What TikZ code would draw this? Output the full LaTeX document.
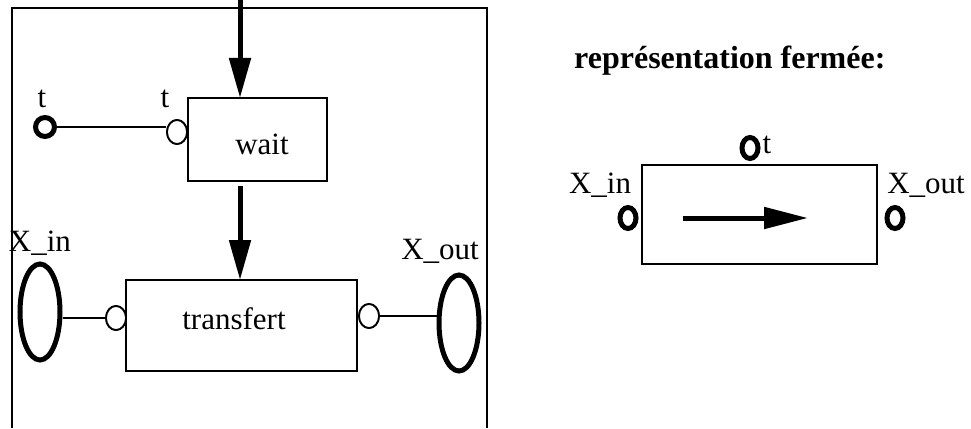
\documentclass[tikz,border=0pt]{standalone}
\usepackage{fontspec}
\setmainfont{Liberation Serif}
\usetikzlibrary{arrows.meta,shapes.geometric,calc}
\begin{document}
\begin{tikzpicture}[x=1pt,y=-1pt,
  lbl/.style={font=\fontsize{31}{36}\selectfont, inner sep=0pt, anchor=base},
  thin/.style={line width=2pt},
  boxs/.style={draw, line width=2pt, rectangle, inner sep=0pt},
  port/.style={draw, line width=1.8pt, ellipse, inner sep=0pt, minimum width=20pt, minimum height=24pt, fill=white},
  thickport/.style={draw, line width=5pt, circle, inner sep=0pt, minimum size=19pt},
  cport/.style={draw, line width=5pt, ellipse, inner sep=0pt, minimum width=16pt, minimum height=21pt},
  bigport/.style={draw, line width=5pt, ellipse, inner sep=0pt, minimum width=40pt, minimum height=96pt},
  flow/.style={line width=5pt, -{Triangle[length=40pt,width=21pt]}, shorten >=-1pt}
]
\useasboundingbox (0,0) rectangle (971,428);
% outer frame (open at bottom)
\draw[thin] (12,428) -- (12,8) -- (487,8) -- (487,428);
% boxes
\node[boxs, minimum width=139pt, minimum height=83pt] (wait) at (257.5,139.5) {};
\node[lbl] (waitt) at (262,154) {wait};
\node[boxs, minimum width=231pt, minimum height=91pt] (transf) at (241.5,325.5) {};
\node[lbl] (transft) at (234,329) {transfert};
% ports of wait and transfert
\node[port] (tp) at (177,132) {};
\node[thickport] (tc) at (45,127) {};
\node[port] (inp) at (116,318) {};
\node[port] (outp) at (369,316) {};
\node[bigport] (xin) at (40,312) {};
\node[bigport] (xout) at (459,323) {};
% connectors
\draw[thin] (tc.east) -- (tc.east -| tp.west);
\draw[thin] (xin.east |- inp.west) -- (inp.west);
\draw[thin] (outp.east) -- (outp.east -| xout.west);
% redraw ports on top of lines
\node[port] at (tp) {};
\node[port] at (inp) {};
\node[port] at (outp) {};
% flow arrows
\coordinate (topin) at (240,0);
\draw[flow] (topin) -- (topin |- wait.north);
\coordinate (w2) at (240,186);
\draw[flow] (w2) -- (w2 |- transf.north);
% labels
\node[lbl] (lt1) at (42,107) {t};
\node[lbl] (lt2) at (165,107) {t};
\node[lbl] (lxin) at (40,251) {X\_in};
\node[lbl] (lxout) at (440,259) {X\_out};
% closed representation
\node[lbl, font=\fontsize{32}{38}\selectfont\bfseries, anchor=base west] (title) at (574,68) {représentation fermée:};
\node[boxs, minimum width=235pt, minimum height=99pt] (closed) at (759.5,214.5) {};
\node[cport] (ct) at (750,148) {};
\node[cport] (cin) at (628,218) {};
\node[cport] (cout) at (895,218) {};
\coordinate (ca) at (683,218);
\coordinate (cb) at (808,218);
\draw[line width=5pt, -{Triangle[length=44pt,width=21pt]}] (ca) -- (cb);
\node[lbl] (lct) at (767,153) {t};
\node[lbl] (lcin) at (600,193) {X\_in};
\node[lbl] (lcout) at (926,193) {X\_out};
\end{tikzpicture}
\end{document}
